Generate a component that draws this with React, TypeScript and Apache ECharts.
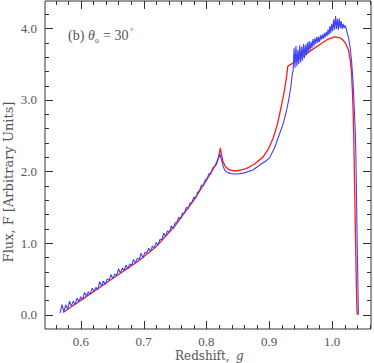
import React, { useEffect, useRef } from 'react';
import * as echarts from 'echarts';

// Axis ticks / labels
const xMajorTicks = [0.6, 0.7, 0.8, 0.9, 1.0];
const xMinorTicks = [0.56, 0.58, 0.62, 0.64, 0.66, 0.68, 0.72, 0.74, 0.76, 0.78, 0.82, 0.84, 0.86, 0.88, 0.92, 0.94, 0.96, 0.98, 1.02, 1.04, 1.06];
const yMajorTicks = [0, 1, 2, 3, 4];
const yMinorTicks = [0.2, 0.4, 0.6, 0.8, 1.2, 1.4, 1.6, 1.8, 2.2, 2.4, 2.6, 2.8, 3.2, 3.4, 3.6, 3.8, 4.2];

const xTitle = 'Redshift, ';
const xTitleVar = 'g';
const yTitle = 'Flux, F [Arbitrary Units]';

// Model curve (red)
const modelZ = [
  0.572, 0.585, 0.6, 0.615, 0.63, 0.645, 0.66, 0.675, 0.69, 0.705, 0.72, 0.735, 0.75, 0.765, 0.78, 0.79, 0.8, 0.81,
  0.815, 0.819, 0.8222, 0.8235, 0.826, 0.83, 0.835, 0.842, 0.85, 0.8635, 0.876, 0.89, 0.899, 0.906, 0.913, 0.919,
  0.924, 0.9275, 0.9296, 0.943, 0.9534, 0.965, 0.98, 0.992, 1.0037, 1.011, 1.017, 1.022, 1.026, 1.029, 1.031,
  1.0325, 1.0335, 1.0345, 1.0355, 1.0365, 1.0375, 1.0385, 1.0395, 1.04,
];
const modelFlux = [
  0.03, 0.11, 0.2, 0.29, 0.38, 0.47, 0.56, 0.65, 0.74, 0.845, 0.95, 1.095, 1.24, 1.42, 1.6, 1.74, 1.88, 2.02,
  2.1, 2.19, 2.33, 2.25, 2.15, 2.07, 2.03, 2.01, 2.01, 2.04, 2.1, 2.2, 2.32, 2.46, 2.66, 2.9,
  3.12, 3.32, 3.47, 3.54, 3.61, 3.68, 3.77, 3.84, 3.88, 3.87, 3.84, 3.78, 3.7, 3.55, 3.38,
  3.1, 2.85, 2.5, 2.0, 1.5, 1.0, 0.5, 0.1, 0.0,
];

// Observed / simulated curve (blue)
const observedZ = [
  0.567, 0.57, 0.573, 0.576, 0.579, 0.582, 0.585, 0.588, 0.591, 0.594,
  0.597, 0.6, 0.603, 0.606, 0.609, 0.612, 0.615, 0.618, 0.621, 0.624,
  0.627, 0.63, 0.633, 0.636, 0.639, 0.642, 0.645, 0.648, 0.651, 0.654,
  0.657, 0.66, 0.663, 0.666, 0.669, 0.672, 0.675, 0.678, 0.681, 0.684,
  0.687, 0.69, 0.693, 0.696, 0.699, 0.702, 0.705, 0.708, 0.711, 0.714,
  0.717, 0.72, 0.723, 0.726, 0.729, 0.732, 0.735, 0.738, 0.741, 0.744,
  0.747, 0.75, 0.753, 0.756, 0.759, 0.762, 0.765, 0.768, 0.771, 0.774,
  0.777, 0.78, 0.783, 0.786, 0.789, 0.792, 0.795, 0.798, 0.801, 0.804,
  0.807, 0.81, 0.813,
  0.816, 0.819, 0.8215, 0.824, 0.827, 0.83, 0.835, 0.842, 0.85, 0.86, 0.874, 0.885, 0.895, 0.9005,
  0.908, 0.917, 0.922, 0.927, 0.931, 0.9345, 0.937,
  0.938, 0.9395, 0.941, 0.9425, 0.944, 0.9455, 0.947, 0.9485, 0.95, 0.9515,
  0.953, 0.9545, 0.956, 0.9575, 0.959, 0.9605, 0.962, 0.9635, 0.965, 0.9665,
  0.968, 0.9695, 0.971, 0.9725, 0.974, 0.9755, 0.977, 0.9785, 0.98, 0.9815,
  0.983, 0.9845, 0.986, 0.9875, 0.989, 0.9905, 0.992, 0.9935, 0.995, 0.9965,
  0.998, 0.9995, 1.001, 1.0025, 1.004, 1.0055, 1.007, 1.0085, 1.01, 1.0115,
  1.013, 1.0145, 1.016, 1.0175, 1.019, 1.0205, 1.022, 1.0235,
  1.026, 1.029, 1.031, 1.033, 1.0345, 1.0355, 1.037, 1.038, 1.039, 1.04, 1.041, 1.0415, 1.042,
];
const observedFlux = [
  0.02, 0.14, 0.04, 0.14, 0.07, 0.19, 0.12, 0.19, 0.14, 0.23,
  0.18, 0.25, 0.21, 0.31, 0.26, 0.32, 0.28, 0.37, 0.33, 0.38,
  0.35, 0.46, 0.4, 0.47, 0.42, 0.5, 0.48, 0.56, 0.5, 0.57,
  0.54, 0.64, 0.58, 0.65, 0.62, 0.69, 0.64, 0.71, 0.69, 0.77,
  0.72, 0.79, 0.77, 0.86, 0.79, 0.87, 0.86, 0.93, 0.88, 0.96,
  0.93, 1.01, 0.97, 1.05, 1.05, 1.14, 1.09, 1.17, 1.15, 1.24,
  1.2, 1.28, 1.29, 1.36, 1.34, 1.42, 1.42, 1.5, 1.48, 1.56,
  1.57, 1.64, 1.63, 1.71, 1.73, 1.81, 1.8, 1.88, 1.9, 1.97,
  1.97, 2.05, 2.07,
  2.1, 2.18, 2.24, 2.16, 2.06, 2.01, 1.98, 1.965, 1.965, 1.98, 2.02, 2.09, 2.15, 2.19,
  2.32, 2.54, 2.66, 2.83, 3.0, 3.19, 3.38,
  3.4, 3.72, 3.45, 3.75, 3.47, 3.7, 3.5, 3.76, 3.52, 3.74,
  3.55, 3.78, 3.58, 3.77, 3.62, 3.8, 3.65, 3.82, 3.69, 3.81,
  3.72, 3.85, 3.75, 3.86, 3.78, 3.88, 3.8, 3.88, 3.81, 3.9,
  3.84, 3.91, 3.85, 3.93, 3.87, 3.95, 3.89, 3.98, 3.91, 4.03,
  3.93, 4.06, 3.96, 4.12, 3.98, 4.17, 3.99, 4.13, 3.98, 4.14,
  4.0, 4.1, 3.99, 4.06, 4.0, 4.04, 4.01, 3.96,
  3.88, 3.72, 3.55, 3.3, 3.05, 2.85, 2.55, 2.2, 1.6, 1.0, 0.5, 0.2, 0.0,
];

const X_MIN = 0.543;
const X_MAX = 1.062;
const Y_MIN = -0.2;
const Y_MAX = 4.38;

const isMajor = (v: number, majors: number[]) => majors.some((t) => Math.abs(t - v) < 1e-6);

export default function App() {
  const ref = useRef<HTMLDivElement>(null);

  useEffect(() => {
    if (!ref.current) return;
    const chart = echarts.init(ref.current, null, { renderer: 'svg' });
    const TEXT = '#555';
    const LINE = '#333';
    const FONT = 'Liberation Serif';
    const MAJOR_LEN = 8;
    const MINOR_LEN = 4;

    const model = modelZ.map((z, i) => [z, modelFlux[i]]);
    const observed = observedZ.map((z, i) => [z, observedFlux[i]]);
    const xTickData = [...xMajorTicks, ...xMinorTicks].map((v) => [v, Y_MIN]);
    const yTickData = [...yMajorTicks, ...yMinorTicks].map((v) => [X_MIN, v]);

    const tickStyle = { stroke: LINE, lineWidth: 1 };

    chart.setOption({
      animation: false,
      backgroundColor: '#ffffff',
      grid: {
        left: 45,
        right: 3,
        top: 1,
        bottom: 34,
        show: true,
        borderColor: LINE,
        borderWidth: 1,
        backgroundColor: 'transparent',
        containLabel: false,
        outerBoundsMode: 'none',
      },
      xAxis: {
        type: 'value',
        min: X_MIN,
        max: X_MAX,
        splitLine: { show: false },
        axisLine: { show: false, onZero: false },
        axisTick: { show: false },
        axisLabel: {
          margin: 6,
          fontFamily: FONT,
          fontSize: 13,
          color: TEXT,
          formatter: (v: number) => (isMajor(v, xMajorTicks) ? v.toFixed(1) : ''),
        },
      },
      yAxis: {
        type: 'value',
        min: Y_MIN,
        max: Y_MAX,
        splitLine: { show: false },
        axisLine: { show: false, onZero: false },
        axisTick: { show: false },
        axisLabel: {
          margin: 8,
          fontFamily: FONT,
          fontSize: 13,
          color: TEXT,
          formatter: (v: number) => (isMajor(v, yMajorTicks) ? v.toFixed(1) : ''),
        },
      },
      series: [
        {
          type: 'line',
          data: model,
          symbol: 'none',
          lineStyle: { color: '#ff1a1a', width: 1.3 },
          z: 2,
        },
        {
          type: 'line',
          data: observed,
          symbol: 'none',
          lineStyle: { color: '#3f3fff', width: 1.1 },
          z: 3,
        },
        {
          type: 'custom',
          coordinateSystem: 'cartesian2d',
          silent: true,
          clip: false,
          z: 5,
          data: xTickData,
          renderItem: (params: any, api: any) => {
            const v = api.value(0);
            const len = isMajor(v, xMajorTicks) ? MAJOR_LEN : MINOR_LEN;
            const cs = params.coordSys;
            const px = Math.round(api.coord([v, Y_MIN])[0]) + 0.5;
            const bottom = cs.y + cs.height;
            return {
              type: 'group',
              children: [
                { type: 'line', shape: { x1: px, y1: bottom, x2: px, y2: bottom - len }, style: tickStyle },
                { type: 'line', shape: { x1: px, y1: cs.y, x2: px, y2: cs.y + len }, style: tickStyle },
              ],
            };
          },
        },
        {
          type: 'custom',
          coordinateSystem: 'cartesian2d',
          silent: true,
          clip: false,
          z: 5,
          data: yTickData,
          renderItem: (params: any, api: any) => {
            const v = api.value(1);
            const len = isMajor(v, yMajorTicks) ? MAJOR_LEN : MINOR_LEN;
            const cs = params.coordSys;
            const py = Math.round(api.coord([X_MIN, v])[1]) + 0.5;
            const right = cs.x + cs.width;
            return {
              type: 'group',
              children: [
                { type: 'line', shape: { x1: cs.x, y1: py, x2: cs.x + len, y2: py }, style: tickStyle },
                { type: 'line', shape: { x1: right, y1: py, x2: right - len, y2: py }, style: tickStyle },
              ],
            };
          },
        },
      ],
      graphic: [
        {
          type: 'text',
          x: 8,
          y: 182,
          rotation: Math.PI / 2,
          style: { text: yTitle, fontFamily: 'DejaVu Serif', fontSize: 13, fill: TEXT, align: 'center', verticalAlign: 'middle' },
        },
        {
          type: 'text',
          x: 175,
          y: 356,
          style: { text: xTitle, fontFamily: 'DejaVu Serif', fontSize: 12, fill: TEXT, align: 'left', verticalAlign: 'middle' },
        },
        {
          type: 'text',
          x: 236,
          y: 356,
          style: { text: xTitleVar, fontFamily: 'DejaVu Serif', fontStyle: 'italic', fontSize: 12, fill: TEXT, align: 'left', verticalAlign: 'middle' },
        },
        { type: 'text', x: 68, y: 35, style: { text: '(b)', fontFamily: FONT, fontSize: 14, fill: TEXT, verticalAlign: 'middle' } },
        { type: 'text', x: 88, y: 35, style: { text: 'θ', fontFamily: FONT, fontStyle: 'italic', fontSize: 14, fill: TEXT, verticalAlign: 'middle' } },
        { type: 'text', x: 95, y: 40, style: { text: 'o', fontFamily: FONT, fontSize: 8, fill: TEXT, verticalAlign: 'middle' } },
        { type: 'text', x: 103, y: 35, style: { text: '= 30', fontFamily: FONT, fontSize: 14, fill: TEXT, verticalAlign: 'middle' } },
        { type: 'text', x: 130, y: 31, style: { text: '°', fontFamily: FONT, fontSize: 8, fill: TEXT, verticalAlign: 'middle' } },
      ],
    });

    return () => chart.dispose();
  }, []);

  return (
    <div
      ref={ref}
      style={{ position: 'fixed', left: 0, top: 0, width: 374, height: 363, background: '#fff' }}
    />
  );
}
